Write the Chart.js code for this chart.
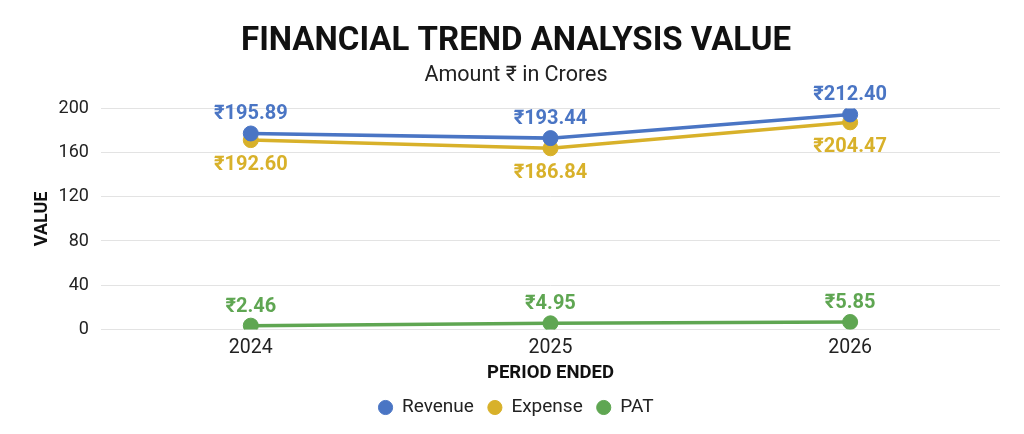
<!DOCTYPE html>
<html>
<head>
<meta charset="utf-8">
<script src="https://cdn.jsdelivr.net/npm/chart.js@4"></script>
<style>
  html, body { margin: 0; padding: 0; background: #fff; }
  #wrap { width: 1024px; height: 434px; }
</style>
</head>
<body>
<div id="wrap"><canvas id="trend-chart"></canvas></div>
<script>
var periods = ["2024", "2025", "2026"];

// plotted positions
var revenue = [177.3, 173.1, 194.5];
var expense = [171.3, 163.9, 187.4];
var pat = [3.4, 5.5, 6.7];

// label texts as printed on the picture
var revenueLabels = ["₹195.89", "₹193.44", "₹212.40"];
var expenseLabels = ["₹192.60", "₹186.84", "₹204.47"];
var patLabels = ["₹2.46", "₹4.95", "₹5.85"];

var yTicks = [0, 40, 80, 120, 160, 200];

var blue = "#4a75c4";
var gold = "#d8b12a";
var green = "#5fa652";

// draws the value labels over / under each point
var pointLabels = {
  id: "pointLabels",
  afterDatasetsDraw: function (chart) {
    var ctx = chart.ctx;
    ctx.save();
    ctx.font = "bold 20px Roboto";
    ctx.textAlign = "center";
    ctx.textBaseline = "middle";
    chart.data.datasets.forEach(function (ds, i) {
      var meta = chart.getDatasetMeta(i);
      meta.data.forEach(function (pt, j) {
        ctx.fillStyle = ds.borderColor;
        var dy = ds.labelPos === "below" ? 25 : -19;
        ctx.fillText(ds.valueLabels[j], pt.x, pt.y + dy);
      });
    });
    ctx.restore();
  },
};

var config = {
  type: "line",
  data: {
    labels: periods,
    datasets: [
      {
        label: "Revenue",
        data: revenue,
        valueLabels: revenueLabels,
        labelPos: "above",
        borderColor: blue,
        backgroundColor: blue,
      },
      {
        label: "Expense",
        data: expense,
        valueLabels: expenseLabels,
        labelPos: "below",
        borderColor: gold,
        backgroundColor: gold,
      },
      {
        label: "PAT",
        data: pat,
        valueLabels: patLabels,
        labelPos: "above",
        borderColor: green,
        backgroundColor: green,
      },
    ],
  },
  options: {
    responsive: true,
    maintainAspectRatio: false,
    animation: false,
    layout: { padding: { left: 32, right: 24, top: 8, bottom: 7 } },
    elements: {
      line: { borderWidth: 3.5, tension: 0 },
      point: { radius: 7.5, hoverRadius: 7.5 },
    },
    scales: {
      x: {
        offset: true,
        grid: { display: false },
        border: { display: false },
        ticks: { color: "#222", font: { family: "Roboto", size: 19.5 }, padding: -1 },
        title: {
          display: true,
          text: "PERIOD ENDED",
          color: "#111",
          font: { family: "Roboto", size: 18.5, weight: "bold" },
          padding: { top: 3, bottom: 0 },
        },
      },
      y: {
        min: 0,
        max: 200,
        afterBuildTicks: function (axis) {
          axis.ticks = yTicks.map(function (v) { return { value: v }; });
        },
        grid: { color: "#e3e3e3", lineWidth: 1, drawTicks: false },
        border: { display: false },
        ticks: { color: "#222", font: { family: "Roboto", size: 18 }, padding: 12 },
        title: {
          display: true,
          text: "VALUE",
          color: "#111",
          font: { family: "Roboto", size: 18, weight: "bold" },
          padding: { top: 0, bottom: -7 },
        },
      },
    },
    plugins: {
      title: {
        display: true,
        text: "FINANCIAL TREND ANALYSIS VALUE",
        color: "#111",
        font: { family: "Roboto", size: 33, weight: "bold" },
        padding: { top: 14, bottom: 1 },
      },
      subtitle: {
        display: true,
        text: "Amount ₹ in Crores",
        color: "#222",
        font: { family: "Roboto", size: 21.5 },
        padding: { top: 0, bottom: 20 },
      },
      legend: {
        position: "bottom",
        labels: {
          usePointStyle: true,
          pointStyle: "circle",
          boxWidth: 14,
          boxHeight: 10,
          padding: 14,
          color: "#222",
          font: { family: "Roboto", size: 19 },
        },
      },
      tooltip: { enabled: false },
    },
  },
  plugins: [pointLabels],
};

var ctxOne = document.getElementById("trend-chart").getContext("2d");
new Chart(ctxOne, config);
</script>
</body>
</html>
